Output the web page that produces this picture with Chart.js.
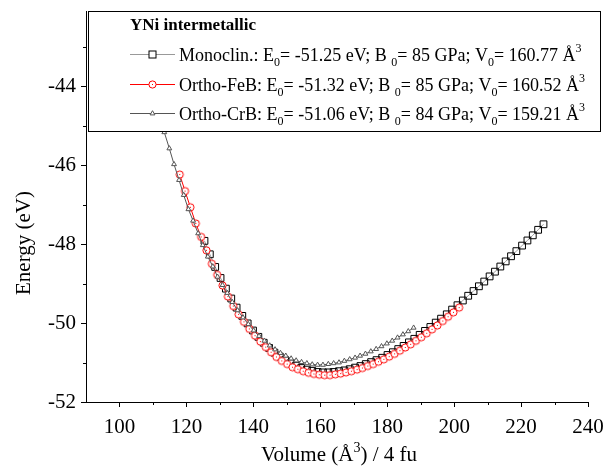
<!DOCTYPE html>
<html>
<head>
<meta charset="utf-8">
<script src="https://cdn.jsdelivr.net/npm/chart.js@4.4.1/dist/chart.umd.min.js"></script>
<style>
  body { margin: 0; background: #fff; }
  #wrap { width: 616px; height: 466px; }
</style>
</head>
<body>
<div id="wrap"><canvas id="chart" width="616" height="466"></canvas></div>
<script>
// YNi energy vs volume, three structures
const monoV = [125.4, 127.0, 128.6, 130.2, 131.8, 133.4, 135.0, 136.7, 138.3, 139.9, 141.5, 143.1, 144.7, 146.3, 147.9, 149.5,
  151.1, 152.7, 154.3, 156.0, 157.6, 159.2, 160.8, 162.4, 164.0, 165.6, 167.2, 168.8, 170.4, 172.0, 173.6, 175.2,
  176.8, 178.5, 180.1, 181.7, 183.3, 184.9, 186.5, 188.1, 189.7, 191.3, 192.9, 194.5, 196.1, 197.8, 199.4, 201.0,
  202.6, 204.2, 205.8, 207.4, 209.0, 210.6, 212.2, 213.8, 215.4, 217.0, 218.6, 220.3, 221.9, 223.5, 225.1, 226.7];
const monoE = [-47.92, -48.26, -48.58, -48.86, -49.13, -49.38, -49.61, -49.82, -50.01, -50.19, -50.35, -50.50, -50.63, -50.75, -50.85, -50.94,
  -51.02, -51.08, -51.14, -51.18, -51.21, -51.24, -51.25, -51.25, -51.24, -51.22, -51.20, -51.17, -51.13, -51.09, -51.04, -50.99,
  -50.94, -50.88, -50.81, -50.74, -50.66, -50.58, -50.49, -50.40, -50.30, -50.20, -50.10, -49.99, -49.89, -49.78, -49.66, -49.55,
  -49.43, -49.31, -49.19, -49.07, -48.95, -48.82, -48.70, -48.57, -48.44, -48.31, -48.18, -48.04, -47.91, -47.78, -47.64, -47.50];

const febV = [118.0, 119.6, 121.2, 122.8, 124.4, 126.0, 127.6, 129.2, 130.8, 132.4, 134.0, 135.6, 137.2, 138.8, 140.5, 142.1,
  143.7, 145.3, 146.9, 148.5, 150.1, 151.7, 153.3, 154.9, 156.5, 158.1, 159.7, 161.3, 162.9, 164.5, 166.1, 167.7,
  169.3, 171.0, 172.6, 174.2, 175.8, 177.4, 179.0, 180.6, 182.2, 183.8, 185.4, 187.0, 188.6, 190.2, 191.8, 193.4,
  195.0, 196.6, 198.2, 199.8, 201.5];
const febE = [-46.24, -46.66, -47.07, -47.48, -47.82, -48.16, -48.50, -48.78, -49.05, -49.33, -49.57, -49.78, -49.97, -50.15, -50.32, -50.47,
  -50.61, -50.74, -50.86, -50.96, -51.04, -51.12, -51.17, -51.22, -51.26, -51.29, -51.31, -51.32, -51.32, -51.30, -51.28, -51.25,
  -51.22, -51.18, -51.14, -51.09, -51.04, -50.98, -50.92, -50.85, -50.78, -50.70, -50.62, -50.54, -50.45, -50.36, -50.26, -50.16,
  -50.06, -49.95, -49.84, -49.73, -49.61];

const crbV = [110.4, 111.9, 113.4, 114.9, 116.3, 117.8, 119.2, 120.6, 122.0, 123.5, 124.9, 126.4, 127.9, 129.3, 130.8, 132.2,
  133.7, 135.3, 136.9, 138.5, 140.1, 141.7, 143.3, 144.9, 146.5, 148.1, 149.7, 151.3, 152.8, 154.4, 156.0, 157.6,
  159.2, 160.8, 162.4, 164.0, 165.6, 167.2, 168.8, 170.4, 171.9, 173.5, 175.1, 176.7, 178.3, 179.9, 181.5, 183.1,
  184.7, 186.3, 187.9];
const crbE = [-44.33, -44.75, -45.17, -45.58, -45.98, -46.38, -46.76, -47.12, -47.41, -47.73, -48.03, -48.32, -48.57, -48.83, -49.04, -49.24,
  -49.47, -49.68, -49.86, -50.03, -50.19, -50.33, -50.45, -50.57, -50.67, -50.76, -50.83, -50.90, -50.95, -50.99, -51.02, -51.05,
  -51.06, -51.06, -51.04, -51.02, -51.00, -50.96, -50.92, -50.88, -50.83, -50.78, -50.72, -50.66, -50.59, -50.52, -50.45, -50.37,
  -50.29, -50.21, -50.12];

const xTickValues = [100, 120, 140, 160, 180, 200, 220, 240];
const yTickValues = [-52, -50, -48, -46, -44];

const legendTitle = 'YNi intermetallic';
const seriesNames = ['Monoclin.', 'Ortho-FeB', 'Ortho-CrB'];
const seriesE0 = ['-51.25', '-51.32', '-51.06'];
const seriesB0 = ['85', '85', '84'];
const seriesV0 = ['160.77', '160.52', '159.21'];

const FONT = "'Liberation Serif', 'Times New Roman', serif";

function toPoints(xs, ys) {
  return xs.map((v, i) => ({ x: v, y: ys[i] }));
}

// open red circle with a dot in the middle
function circleMark(color) {
  const c = document.createElement('canvas');
  c.width = 11;
  c.height = 11;
  const g = c.getContext('2d');
  g.beginPath();
  g.arc(5.5, 5.5, 3.6, 0, Math.PI * 2);
  g.fillStyle = '#fff';
  g.fill();
  g.strokeStyle = color;
  g.lineWidth = 1;
  g.stroke();
  g.fillStyle = color;
  g.fillRect(5, 5, 1, 1);
  return c;
}
const redCircle = circleMark('#ff0000');

function drawRich(ctx, x, y, parts, size) {
  parts.forEach(p => {
    const small = p[1] === 'sub' || p[1] === 'sup';
    ctx.font = (small ? Math.round(size * 0.65) : size) + 'px ' + FONT;
    let dy = 0;
    if (p[1] === 'sub') dy = 5;
    if (p[1] === 'sup') dy = -9;
    ctx.fillText(p[0], x, y + dy);
    x += ctx.measureText(p[0]).width;
  });
  return x;
}

function drawMarker(ctx, i, x, y) {
  ctx.lineWidth = 1;
  if (i === 0) {
    ctx.fillStyle = '#fff';
    ctx.strokeStyle = '#000';
    ctx.fillRect(x - 3.5, y - 3.5, 7, 7);
    ctx.strokeRect(x - 3.5, y - 3.5, 7, 7);
  } else if (i === 1) {
    ctx.drawImage(redCircle, x - 5.5, y - 5.5);
  } else {
    const r = 2.8;
    ctx.beginPath();
    ctx.moveTo(x, y - r);
    ctx.lineTo(x + r * 0.866, y + r / 2);
    ctx.lineTo(x - r * 0.866, y + r / 2);
    ctx.closePath();
    ctx.fillStyle = '#fff';
    ctx.fill();
    ctx.strokeStyle = '#555';
    ctx.stroke();
  }
}

const decor = {
  id: 'decor',
  afterDraw(chart) {
    const ctx = chart.ctx;
    const xs = chart.scales.x;
    const ys = chart.scales.y;
    const area = chart.chartArea;
    ctx.save();

    // tick marks, majors longer than minors
    ctx.strokeStyle = '#000';
    ctx.lineWidth = 1;
    ctx.beginPath();
    for (let v = 100; v <= 240; v += 10) {
      const px = Math.round(xs.getPixelForValue(v)) + 0.5;
      const len = v % 20 === 0 ? 5 : 3;
      ctx.moveTo(px, area.bottom);
      ctx.lineTo(px, area.bottom + len);
    }
    for (let v = -52; v <= -43; v += 1) {
      const py = Math.round(ys.getPixelForValue(v)) + 0.5;
      const len = v % 2 === 0 ? 5 : 3;
      ctx.moveTo(area.left, py);
      ctx.lineTo(area.left - len, py);
    }
    ctx.stroke();

    // axis titles
    ctx.fillStyle = '#000';
    ctx.textBaseline = 'alphabetic';
    ctx.textAlign = 'left';
    const xParts = [['Volume (Å'], ['3', 'sup'], [') / 4 fu']];
    let w = 0;
    xParts.forEach(p => {
      ctx.font = (p[1] ? 14 : 21) + 'px ' + FONT;
      w += ctx.measureText(p[0]).width;
    });
    drawRich(ctx, 339 - w / 2, 461, xParts, 21);

    ctx.save();
    ctx.translate(30, 243);
    ctx.rotate(-Math.PI / 2);
    ctx.font = '21px ' + FONT;
    ctx.textAlign = 'center';
    ctx.fillText('Energy (eV)', 0, 0);
    ctx.restore();

    // legend box drawn over the data
    ctx.fillStyle = '#fff';
    ctx.fillRect(88, 11, 512, 120);
    ctx.strokeStyle = '#000';
    ctx.lineWidth = 1;
    ctx.strokeRect(88.5, 11.5, 512, 120);

    ctx.fillStyle = '#000';
    ctx.textAlign = 'left';
    ctx.font = 'bold 17px ' + FONT;
    ctx.fillText(legendTitle, 130, 30);

    const lineColors = ['#999999', '#ff0000', '#555555'];
    const baselines = [61, 91, 120];
    seriesNames.forEach((name, i) => {
      const ly = baselines[i] - 7;
      ctx.strokeStyle = lineColors[i];
      ctx.lineWidth = 1;
      ctx.beginPath();
      ctx.moveTo(130, ly + 0.5);
      ctx.lineTo(175, ly + 0.5);
      ctx.stroke();
      drawMarker(ctx, i, 152.5, ly + 0.5);
      ctx.fillStyle = '#000';
      drawRich(ctx, 179, baselines[i], [
        [name + ': E'], ['0', 'sub'], ['= ' + seriesE0[i] + ' eV; B '], ['0', 'sub'],
        ['= ' + seriesB0[i] + ' GPa; V'], ['0', 'sub'], ['= ' + seriesV0[i] + ' Å'], ['3', 'sup']
      ], 18);
    });
    ctx.restore();
  }
};

function noPadding(scale) {
  scale.paddingTop = 0;
  scale.paddingBottom = 0;
  scale.paddingLeft = 0;
  scale.paddingRight = 0;
}

new Chart(document.getElementById('chart'), {
  type: 'scatter',
  data: {
    datasets: [
      {
        label: seriesNames[2],
        data: toPoints(crbV, crbE),
        showLine: true,
        borderColor: '#555555',
        borderWidth: 1,
        pointStyle: 'triangle',
        pointRadius: 2.8,
        pointBorderColor: '#555555',
        pointBackgroundColor: '#ffffff',
        pointBorderWidth: 1,
        order: 0
      },
      {
        label: seriesNames[1],
        data: toPoints(febV, febE),
        showLine: true,
        borderColor: '#ff0000',
        borderWidth: 1,
        pointStyle: redCircle,
        order: 1
      },
      {
        label: seriesNames[0],
        data: toPoints(monoV, monoE),
        showLine: true,
        borderColor: '#999999',
        borderWidth: 1,
        pointStyle: 'rect',
        pointRadius: 4.8,
        pointBorderColor: '#000000',
        pointBackgroundColor: 'rgba(0,0,0,0)',
        pointBorderWidth: 1,
        order: 2
      }
    ]
  },
  options: {
    responsive: false,
    animation: false,
    devicePixelRatio: 1,
    layout: { padding: { left: 0, top: 11, right: 28, bottom: 0 } },
    plugins: { legend: { display: false }, tooltip: { enabled: false } },
    scales: {
      x: {
        type: 'linear',
        min: 90,
        max: 240,
        afterBuildTicks: scale => { scale.ticks = xTickValues.map(v => ({ value: v })); },
        afterFit: scale => { scale.height = 64; noPadding(scale); },
        grid: { display: false, drawTicks: false },
        border: { display: true, color: '#000', width: 1 },
        ticks: { padding: 13, color: '#000', font: { family: FONT, size: 21 }, maxRotation: 0, callback: v => String(v) }
      },
      y: {
        type: 'linear',
        min: -52,
        max: -42.1,
        afterBuildTicks: scale => { scale.ticks = yTickValues.map(v => ({ value: v })); },
        afterFit: scale => { scale.width = 86; noPadding(scale); },
        grid: { display: false, drawTicks: false },
        border: { display: true, color: '#000', width: 1 },
        ticks: { padding: 10, color: '#000', font: { family: FONT, size: 21 }, callback: v => String(v) }
      }
    }
  },
  plugins: [decor]
});
</script>
</body>
</html>
